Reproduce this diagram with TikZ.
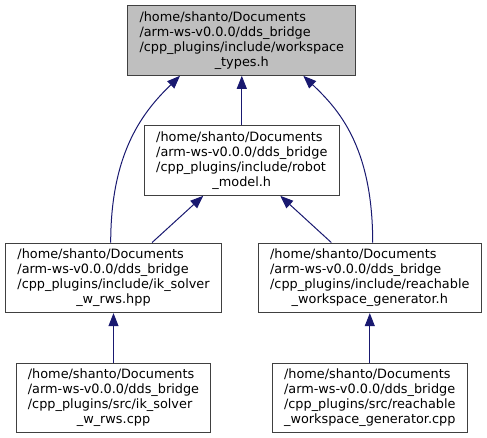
\documentclass[tikz,border=0pt]{standalone}
\usepackage{fontspec}
\setmainfont{DejaVu Sans}
\usepackage{tikz}
\usepackage{xcolor}
\usetikzlibrary{arrows.meta}
\usetikzlibrary{positioning}

\definecolor{edgeblue}{RGB}{25,25,112}
\definecolor{boxgray}{RGB}{64,64,64}
\definecolor{mainfill}{RGB}{191,191,191}

\newcommand{\pathlabel}[4]{%
    \begin{tabular}{@{}l@{}}#1\\#2\\#3\\\multicolumn{1}{@{}c@{}}{#4}\end{tabular}}

\tikzset{
    filebox/.style={draw=boxgray, line width=1pt, fill=white, inner xsep=11.6pt, inner ysep=4.8pt,
        font=\fontsize{12.85}{15}\selectfont},
    mainbox/.style={filebox, fill=mainfill},
    dep/.style={edgeblue, line width=1pt, {Triangle[length=13pt,width=10pt]}-},
}

\begin{document}
\begin{tikzpicture}[x=1pt, y=-1pt]
    \useasboundingbox (0,0) rectangle (487,437);

    \node[mainbox] (types) at (241.8,40.5)
        {\pathlabel{/home/shanto/Documents}{/arm-ws-v0.0.0/dds\_bridge}{/cpp\_plugins/include/workspace}{\_types.h}};
    \node[filebox, below=49.4pt of types] (robot)
        {\pathlabel{/home/shanto/Documents}{/arm-ws-v0.0.0/dds\_bridge}{/cpp\_plugins/include/robot}{\_model.h}};
    \node[filebox] (ikhpp) at (113.5,277.85)
        {\pathlabel{/home/shanto/Documents}{/arm-ws-v0.0.0/dds\_bridge}{/cpp\_plugins/include/ik\_solver}{\_w\_rws.hpp}};
    \node[filebox] (reachh) at (369.8,277.85)
        {\pathlabel{/home/shanto/Documents}{/arm-ws-v0.0.0/dds\_bridge}{/cpp\_plugins/include/reachable}{\_workspace\_generator.h}};
    \node[filebox, below=49.6pt of ikhpp] (ikcpp)
        {\pathlabel{/home/shanto/Documents}{/arm-ws-v0.0.0/dds\_bridge}{/cpp\_plugins/src/ik\_solver}{\_w\_rws.cpp}};
    \node[filebox, below=49.6pt of reachh] (reachcpp)
        {\pathlabel{/home/shanto/Documents}{/arm-ws-v0.0.0/dds\_bridge}{/cpp\_plugins/src/reachable}{\_workspace\_generator.cpp}};

    \draw[dep] (types) -- (robot);
    \draw[dep] (robot) -- (ikhpp);
    \draw[dep] (robot) -- (reachh);
    \draw[dep] (ikhpp) -- (ikcpp);
    \draw[dep] (reachh) -- (reachcpp);
    % long edges round the middle box
    \draw[dep] ([xshift=-61.8pt]types.south) .. controls (145,110) and (110.7,150) .. ([xshift=-2.8pt]ikhpp.north);
    \draw[dep] ([xshift=61.5pt]types.south) .. controls (337,108) and (372.7,145) .. ([xshift=2.9pt]reachh.north);
\end{tikzpicture}
\end{document}
